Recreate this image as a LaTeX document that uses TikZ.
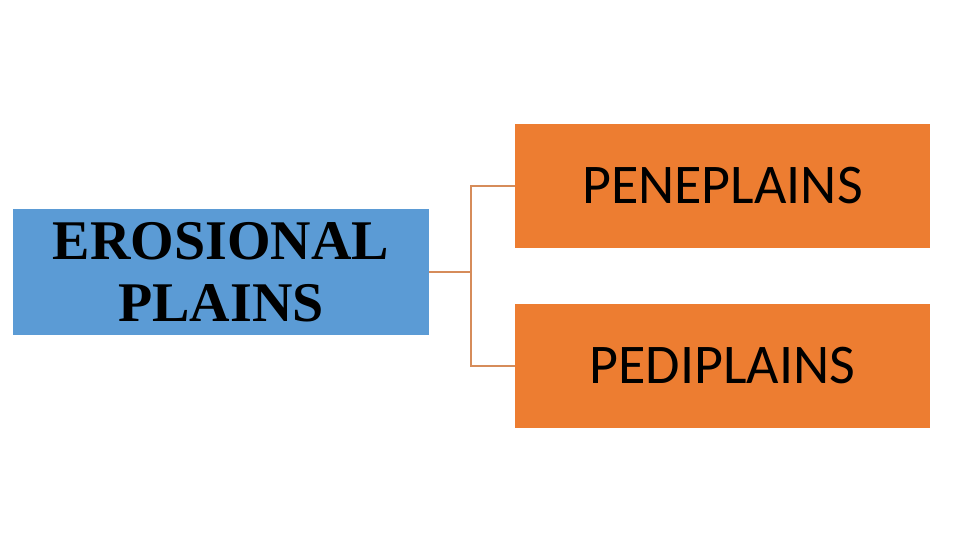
\documentclass[tikz,border=0pt]{standalone}
\usepackage{fontspec}
\newfontfamily\timesfont{Liberation Serif}
\newfontfamily\calibrifont{Carlito}
\usetikzlibrary{positioning}
\definecolor{plainblue}{HTML}{5B9BD5}
\definecolor{plainorange}{HTML}{ED7D31}
\definecolor{linkorange}{RGB}{214,140,90}

\begin{document}
\begin{tikzpicture}[x=1pt, y=-1pt, on grid,
    root/.style={fill=plainblue, minimum width=416pt, minimum height=126pt,
      inner sep=0pt, align=center,
      font=\timesfont\bfseries\fontsize{56pt}{62pt}\selectfont},
    leaf/.style={fill=plainorange, minimum width=415pt, minimum height=124pt,
      inner sep=0pt, font=\calibrifont\fontsize{56pt}{66pt}\selectfont},
    link/.style={draw=linkorange, line width=1.8pt}]
  \useasboundingbox (0,0) rectangle (960,540);
  \node[root] (eros) at (221,272) {EROSIONAL\\PLAINS};
  \node[leaf] (pene) [above right=86pt and 501.5pt of eros] {PENEPLAINS};
  \node[leaf] (pedi) [below right=94pt and 501.5pt of eros] {PEDIPLAINS};
  \draw[link] (eros.east) -- ++(42pt,0) coordinate (fork);
  \draw[link] (pene.west) -| (fork) |- (pedi.west);
\end{tikzpicture}
\end{document}
